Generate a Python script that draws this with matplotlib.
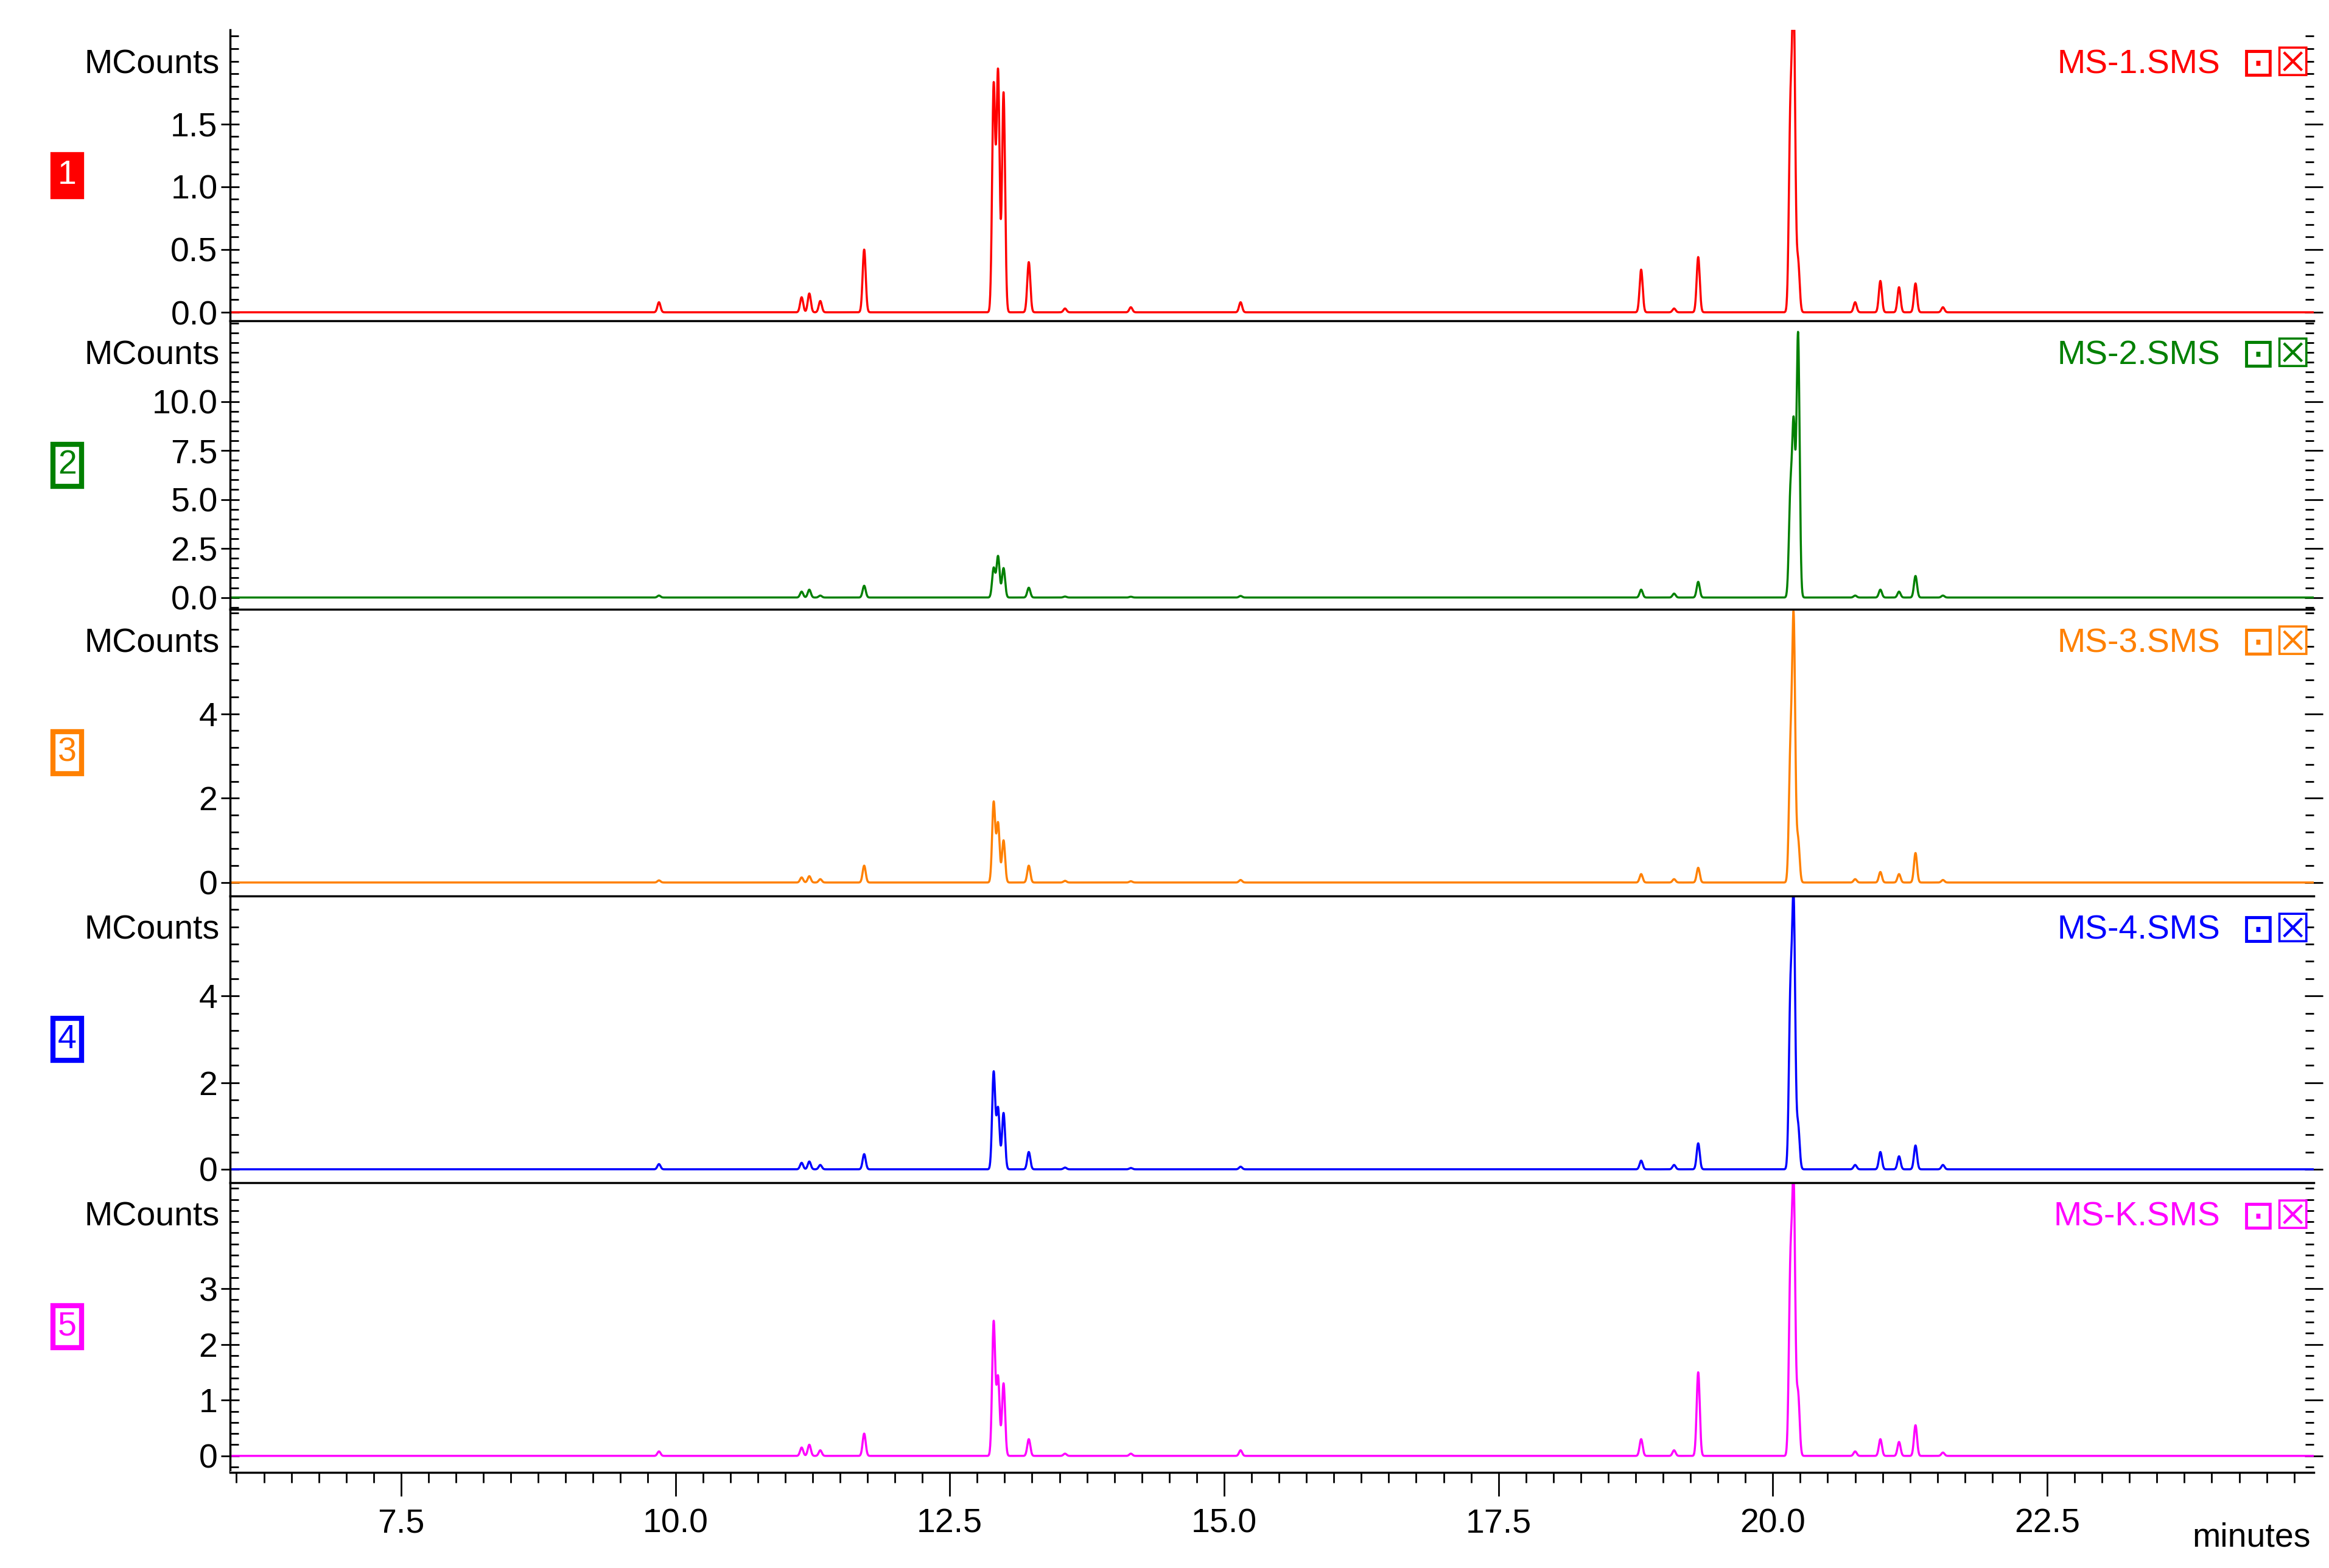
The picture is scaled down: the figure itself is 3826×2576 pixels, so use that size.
import numpy as np
import matplotlib.pyplot as plt
from matplotlib.ticker import MultipleLocator, AutoMinorLocator

plt.rcParams['font.family'] = ['Liberation Sans', 'DejaVu Sans']

names = ['MS-1.SMS', 'MS-2.SMS', 'MS-3.SMS', 'MS-4.SMS', 'MS-K.SMS']
colors = ['#ff0000', '#008000', '#ff8000', '#0000ff', '#ff00ff']
ylims = [(-0.07, 2.25), (-0.6, 14.1), (-0.32, 6.48), (-0.31, 6.31), (-0.27, 4.9)]
yticks = [[0.0, 0.5, 1.0, 1.5], [0.0, 2.5, 5.0, 7.5, 10.0], [0, 2, 4], [0, 2, 4], [0, 1, 2, 3]]
yfmt = ['%.1f', '%.1f', '%d', '%d', '%d']

# peak retention times (min) and heights (MCounts)
peak_t = [9.85, 11.15, 11.22, 11.32, 11.72, 12.9, 12.94, 12.99, 13.22, 13.55, 14.15, 15.15,
          18.8, 19.1, 19.32, 20.16, 20.19, 20.23, 20.75, 20.98, 21.15, 21.3, 21.55]
heights = [
    [0.08, 0.12, 0.15, 0.09, 0.5, 1.8, 1.91, 1.75, 0.4, 0.03, 0.04, 0.08, 0.34, 0.03, 0.44, 1.5, 2.4, 0.4, 0.08, 0.25, 0.2, 0.23, 0.04],
    [0.1, 0.3, 0.4, 0.1, 0.6, 1.5, 2.1, 1.5, 0.5, 0.05, 0.04, 0.08, 0.4, 0.2, 0.8, 5.0, 8.5, 13.4, 0.1, 0.4, 0.3, 1.1, 0.1],
    [0.05, 0.12, 0.15, 0.08, 0.4, 1.9, 1.4, 1.0, 0.4, 0.04, 0.03, 0.06, 0.2, 0.08, 0.35, 2.9, 6.1, 1.0, 0.08, 0.25, 0.2, 0.7, 0.06],
    [0.12, 0.15, 0.18, 0.1, 0.35, 2.24, 1.4, 1.3, 0.4, 0.04, 0.03, 0.06, 0.2, 0.1, 0.6, 3.8, 5.97, 1.0, 0.1, 0.4, 0.3, 0.55, 0.1],
    [0.08, 0.15, 0.2, 0.1, 0.4, 2.4, 1.4, 1.3, 0.3, 0.04, 0.04, 0.1, 0.3, 0.1, 1.5, 3.2, 4.7, 1.1, 0.08, 0.3, 0.25, 0.55, 0.06],
]

XMIN, XMAX = 5.94, 24.93
t = np.linspace(XMIN, XMAX, 10000)
bottoms = [215, 408, 600, 792, 985]
tops = [20, 215, 408, 600, 792]
fig = plt.figure(figsize=(38.26, 25.76), dpi=100)
fs = 40
L, W = 0.0987, 0.8948
for i in range(5):
    b = 1 - bottoms[i] / 1050
    h = (bottoms[i] - tops[i]) / 1050
    ax = fig.add_axes([L, b, W, h])
    y = np.zeros_like(t)
    for pt, ph in zip(peak_t, heights[i]):
        y += ph * np.exp(-0.5 * ((t - pt) / 0.014) ** 2)
    ax.plot(t, y, color=colors[i], linewidth=2.5)
    ax.set_xlim(XMIN, XMAX)
    ax.set_ylim(*ylims[i])
    ax.set_yticks(yticks[i])
    ax.set_yticklabels([yfmt[i] % v for v in yticks[i]], fontsize=fs)
    ax.yaxis.set_minor_locator(AutoMinorLocator(5))
    ax.tick_params(axis='y', which='major', direction='inout', length=22, width=2, right=True)
    ax.tick_params(axis='y', which='minor', direction='in', length=10, width=2, right=True)
    ax.spines['right'].set_visible(False)
    ax.spines['bottom'].set_visible(False)
    ax.spines['top'].set_visible(i > 0)
    ax.spines['top'].set_linewidth(2.5)
    ax.spines['left'].set_linewidth(2.5)
    ax.set_xticks([])
    ax.text(-0.005, 0.88, 'MCounts', transform=ax.transAxes, ha='right', va='center', fontsize=fs)
    ax.text(0.955, 0.88, names[i], transform=ax.transAxes, ha='right', va='center', fontsize=fs, color=colors[i])
    ax.text(0.982, 0.88, '\u22a1\u2612', transform=ax.transAxes, ha='center', va='center',
            fontsize=fs * 1.2, color=colors[i], family=['DejaVu Sans'])
    filled = i == 0
    ax.text(-0.078, 0.5, str(i + 1), transform=ax.transAxes, ha='center', va='center', fontsize=fs,
            color='white' if filled else colors[i],
            bbox=dict(boxstyle='square,pad=0.15', fc=colors[i] if filled else 'white', ec=colors[i], lw=6))

axb = fig.add_axes([L, 1 - 985 / 1050 - 0.001, W, 0.001])
axb.set_xlim(XMIN, XMAX)
axb.set_yticks([])
for s in ['left', 'right', 'top']:
    axb.spines[s].set_visible(False)
axb.spines['bottom'].set_linewidth(2.5)
axb.xaxis.set_minor_locator(MultipleLocator(0.25))
axb.set_xticks([7.5, 10.0, 12.5, 15.0, 17.5, 20.0, 22.5])
axb.set_xticklabels(['7.5', '10.0', '12.5', '15.0', '17.5', '20.0', '22.5'])
axb.tick_params(axis='x', which='major', direction='out', length=28, width=2, labelsize=fs, pad=14)
axb.tick_params(axis='x', which='minor', direction='out', length=12, width=2)
fig.text(0.992, 1 - 1030 / 1050, 'minutes', ha='right', va='center', fontsize=fs)
fig.savefig('out.png', dpi=100)
